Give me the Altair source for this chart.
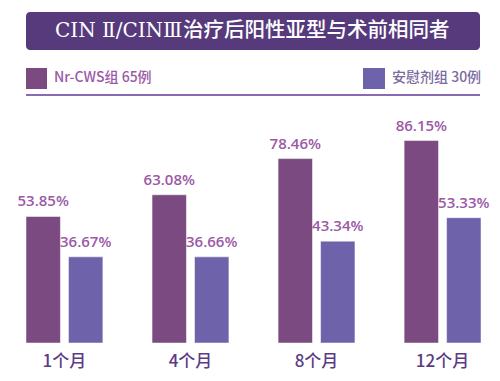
import altair as alt
import pandas as pd

months = ["1个月", "4个月", "8个月", "12个月"]
groups = ["Nr-CWS组 65例", "安慰剂组 30例"]
nr_cws = [53.85, 63.08, 78.46, 86.15]
placebo = [36.67, 36.66, 43.34, 53.33]

rows = []
for i, m in enumerate(months):
    rows.append({"month": m, "group": groups[0], "value": nr_cws[i], "label": f"{nr_cws[i]:.2f}%"})
    rows.append({"month": m, "group": groups[1], "value": placebo[i], "label": f"{placebo[i]:.2f}%"})
df = pd.DataFrame(rows)

bar_colors = ["#7a4a80", "#6e62aa"]

x = alt.X("month:N", sort=months, title=None,
          scale=alt.Scale(paddingInner=0.39, paddingOuter=0),
          axis=alt.Axis(labelAngle=0, labelFontSize=17, labelColor="#5b3b85",
                        labelFont="Noto Sans CJK SC", labelFontWeight=500,
                        labelPadding=10, ticks=False, domain=False, grid=False))
xo = alt.XOffset("group:N", sort=groups, scale=alt.Scale(paddingInner=0.19, paddingOuter=0))
y = alt.Y("value:Q", scale=alt.Scale(domain=[0, 100]), axis=None)

base = alt.Chart(df)
bars = base.mark_bar(stroke="#ffffff", strokeWidth=0.5).encode(
    x=x, xOffset=xo, y=y,
    color=alt.Color("group:N", sort=groups, scale=alt.Scale(domain=groups, range=bar_colors), legend=None),
)
labels = base.mark_text(baseline="bottom", dy=-7, fontSize=15, fontWeight=600,
                        font="Open Sans", color="#9b5aa6").encode(
    x=x, xOffset=xo, y=y, text="label:N")

one = alt.Chart(pd.DataFrame({"k": [0]}))
title_box = one.mark_rect(color="#563a7c", cornerRadius=4).encode(
    x=alt.value(0), x2=alt.value(454), y=alt.value(-96), y2=alt.value(-58))
title_serif = one.mark_text(align="left", baseline="middle", font="DejaVu Serif",
                            fontSize=20, color="#ffffff").encode(
    x=alt.value(29), y=alt.value(-77), text=alt.value("CIN Ⅱ/CINⅢ"))
title_cjk = one.mark_text(align="left", baseline="middle", font="Noto Sans CJK SC",
                          fontSize=20.5, fontWeight=500, color="#ffffff").encode(
    x=alt.value(157), y=alt.value(-77), text=alt.value("治疗后阳性亚型与术前相同者"))

leg_sq1 = one.mark_rect(color=bar_colors[0]).encode(
    x=alt.value(0), x2=alt.value(21), y=alt.value(-40), y2=alt.value(-19))
leg_sq2 = one.mark_rect(color=bar_colors[1]).encode(
    x=alt.value(337), x2=alt.value(359), y=alt.value(-40), y2=alt.value(-19))
leg_t1 = one.mark_text(align="left", baseline="middle", font="Noto Sans CJK SC",
                       fontSize=14, fontWeight=500, color="#9b5aa6").encode(
    x=alt.value(28), y=alt.value(-30), text=alt.value(groups[0]))
leg_t2 = one.mark_text(align="left", baseline="middle", font="Noto Sans CJK SC",
                       fontSize=14, fontWeight=500, color="#7a6a9e").encode(
    x=alt.value(366), y=alt.value(-30), text=alt.value(groups[1]))
rule = one.mark_rule(color="#8a6ab0", strokeWidth=2).encode(
    x=alt.value(0), x2=alt.value(454), y=alt.value(-13))

chart = alt.layer(title_box, title_serif, title_cjk, leg_sq1, leg_sq2, leg_t1, leg_t2, rule,
                  bars, labels).properties(
    width=455, height=235,
    autosize=alt.AutoSizeParams(type="none"),
    padding={"left": 18, "top": 100, "right": 10, "bottom": 30},
    background="#ffffff",
).configure_view(stroke=None)

chart.save("out.html", embed_options={"renderer": "svg", "actions": False})
